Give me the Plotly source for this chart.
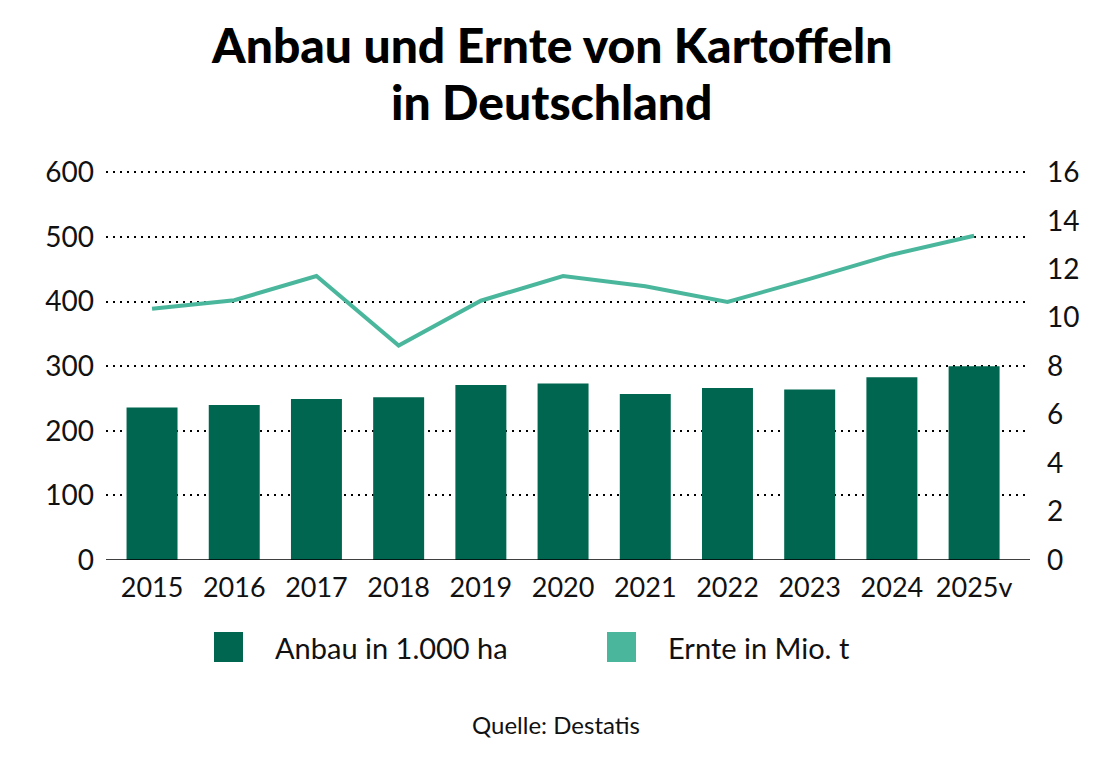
import plotly.graph_objects as go

years = ["2015", "2016", "2017", "2018", "2019", "2020", "2021", "2022", "2023", "2024", "2025v"]
anbau = [236, 240, 249, 252, 271, 273, 257, 266, 264, 283, 300]
ernte = [10.37, 10.72, 11.72, 8.85, 10.7, 11.72, 11.3, 10.65, 11.6, 12.6, 13.38]

left_ticks = [0, 100, 200, 300, 400, 500, 600]
right_ticks = [0, 2, 4, 6, 8, 10, 12, 14, 16]

title_lines = ["Anbau und Ernte von Kartoffeln", "in Deutschland"]
legend_labels = ["Anbau in 1.000 ha", "Ernte in Mio. t"]
source_text = "Quelle: Destatis"

BAR_COLOR = "#00664f"
LINE_COLOR = "#4ab79d"
FONT = "Lato"

# page body has an 8px offset, so figure coords = window coords - 8
OFF = 8
W, H = 1112 - OFF, 761 - OFF
ml = 106 - OFF
mr = W - (1030 - OFF)
mt = 171 - OFF
mb = H - (560 - OFF)

Y_TOP = 602
Y2_TOP = 16 * Y_TOP / 600

fig = go.Figure()
fig.add_trace(go.Bar(x=years, y=anbau, marker=dict(color=BAR_COLOR, line=dict(width=0)),
                     name=legend_labels[0], yaxis="y"))
fig.add_trace(go.Scatter(x=years, y=ernte, mode="lines", line=dict(color=LINE_COLOR, width=4),
                         name=legend_labels[1], yaxis="y2"))

fig.update_layout(
    width=W, height=H,
    margin=dict(l=ml, r=mr, t=mt, b=mb, pad=0),
    paper_bgcolor="white", plot_bgcolor="white",
    showlegend=False,
    bargap=0.38,
    font=dict(family=FONT, size=27, color="#111111"),
    xaxis=dict(type="category", range=[-0.56, 10.68], showgrid=False, ticks="",
               tickfont=dict(size=27), zeroline=False, showline=False, ticklabelstandoff=9),
    yaxis=dict(range=[0, Y_TOP], tickvals=left_ticks, showgrid=True, gridcolor="#000000",
               gridwidth=1.6, griddash="2px,5px", zeroline=False, ticks="", showline=False,
               tickfont=dict(size=28), ticklabelstandoff=11),
    yaxis2=dict(range=[0, Y2_TOP], tickvals=right_ticks, overlaying="y", side="right",
                showgrid=False, zeroline=False, ticks="", showline=False,
                tickfont=dict(size=28), ticklabelstandoff=16),
)

# solid baseline
fig.add_shape(type="line", xref="paper", yref="y", x0=0, x1=1, y0=0, y1=0,
              line=dict(color="#000000", width=1.5))

pw = W - ml - mr
ph = H - mt - mb
def px_x(px):
    return (px - OFF - ml) / pw
def px_y(py):
    return (H - mb - (py - OFF)) / ph

# title (two lines)
for line, cy in zip(title_lines, [45, 102]):
    fig.add_annotation(xref="paper", yref="paper", x=px_x(551.5), y=px_y(cy),
                       xanchor="center", yanchor="middle", text=line, showarrow=False,
                       font=dict(family=FONT, size=48, color="#000000", weight=900))

# custom legend (square markers for both series)
legend_items = [(214, 273, BAR_COLOR, legend_labels[0]), (607, 666, LINE_COLOR, legend_labels[1])]
for sx, tx, col, lab in legend_items:
    fig.add_shape(type="rect", xref="paper", yref="paper",
                  x0=px_x(sx), x1=px_x(sx + 29),
                  y0=px_y(662), y1=px_y(632),
                  fillcolor=col, line=dict(width=0))
    fig.add_annotation(xref="paper", yref="paper", x=px_x(tx), y=px_y(647),
                       xanchor="left", yanchor="middle", text=lab, showarrow=False,
                       font=dict(family=FONT, size=29, color="#111111"))

fig.add_annotation(xref="paper", yref="paper", x=px_x(556), y=px_y(724),
                   xanchor="center", yanchor="middle", text=source_text, showarrow=False,
                   font=dict(family=FONT, size=24, color="#111111"))

fig.write_html("out.html")
